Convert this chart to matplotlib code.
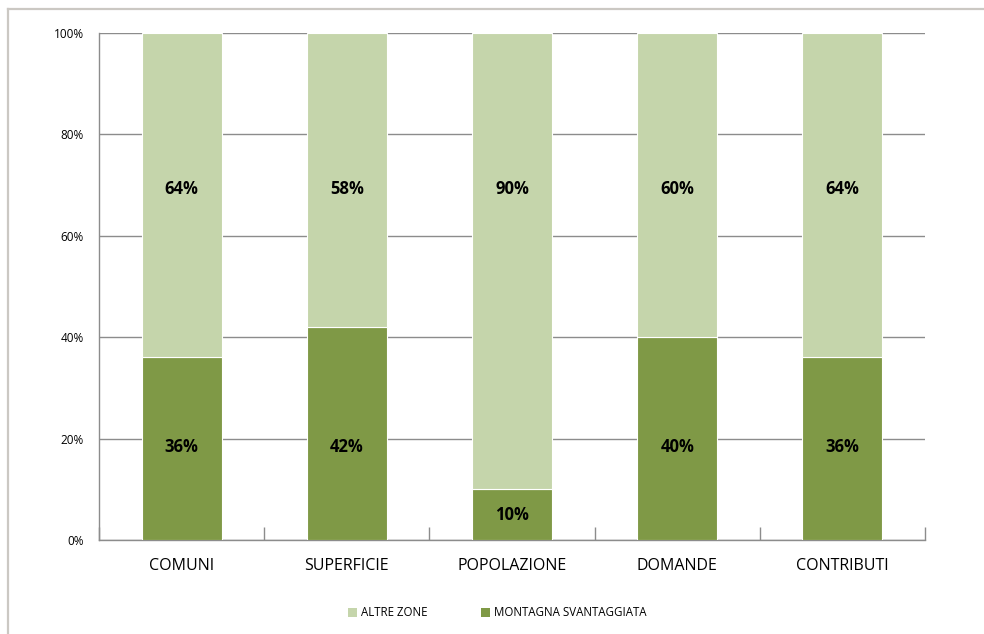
import matplotlib.pyplot as plt
import numpy as np
from matplotlib.lines import Line2D
from matplotlib.patches import Patch

plt.rcParams['font.family'] = ['Open Sans', 'DejaVu Sans']

categories = ['COMUNI', 'SUPERFICIE', 'POPOLAZIONE', 'DOMANDE', 'CONTRIBUTI']
montagna = [36, 42, 10, 40, 36]
altre = [64, 58, 90, 60, 64]

dark = '#7f9946'
light = '#c5d5ab'
grid = '#8c8c8c'

W, H = 984, 634
fig = plt.figure(figsize=(W / 100, H / 100), dpi=100)
ax = fig.add_axes([99 / W, 1 - 540 / H, 826 / W, 507 / H])

x = np.arange(len(categories))
ax.bar(x, montagna, width=0.485, color=dark, edgecolor='white', linewidth=0.8, zorder=3)
ax.bar(x, altre, bottom=montagna, width=0.485, color=light, edgecolor='white',
       linewidth=0.8, zorder=3)

# value labels inside the segments
for xi, m, a in zip(x, montagna, altre):
    y_low = m / 2 if m < 20 else 18.4
    ax.text(xi, y_low, f'{m}%', ha='center', va='center',
            fontsize=12, fontweight='bold', color='black', zorder=4)
    ax.text(xi, 69.2, f'{a}%', ha='center', va='center',
            fontsize=12, fontweight='bold', color='black', zorder=4)

ax.set_xlim(-0.5, len(categories) - 0.5)
ax.set_ylim(0, 100)
ax.set_yticks(np.arange(0, 101, 20))
ax.set_yticklabels([f'{v}%' for v in range(0, 101, 20)], fontsize=8.5)
ax.yaxis.grid(True, color=grid, linewidth=1, zorder=0)
ax.set_axisbelow(True)
ax.tick_params(axis='y', length=0, pad=11)

ax.set_xticks(x)
ax.set_xticklabels(categories, fontsize=11.5)
ax.tick_params(axis='x', which='major', length=0, pad=13)
ax.set_xticks(np.arange(-0.5, len(categories)), minor=True)
ax.tick_params(axis='x', which='minor', direction='in', length=9.5, color=grid, width=1)

for side in ('top', 'right'):
    ax.spines[side].set_visible(False)
for side in ('left', 'bottom'):
    ax.spines[side].set_color(grid)
    ax.spines[side].set_linewidth(1)

# outer frame (top and left edges)
frame = '#cbc8c3'
fig.add_artist(Line2D([8 / W, 1], [1 - 9 / H, 1 - 9 / H], color=frame, linewidth=1.6,
                      transform=fig.transFigure))
fig.add_artist(Line2D([8 / W, 8 / W], [0, 1 - 9 / H], color=frame, linewidth=1.6,
                      transform=fig.transFigure))

handles = [Patch(facecolor=light, label='ALTRE ZONE'),
           Patch(facecolor=dark, label='MONTAGNA SVANTAGGIATA')]
fig.legend(handles=handles, loc='center', bbox_to_anchor=(497 / W, 1 - 613 / H),
           ncol=2, frameon=False, fontsize=8.3, handlelength=0.8, handleheight=0.8,
           handletextpad=0.35, columnspacing=4.6)

fig.savefig('out.png', dpi=100)
